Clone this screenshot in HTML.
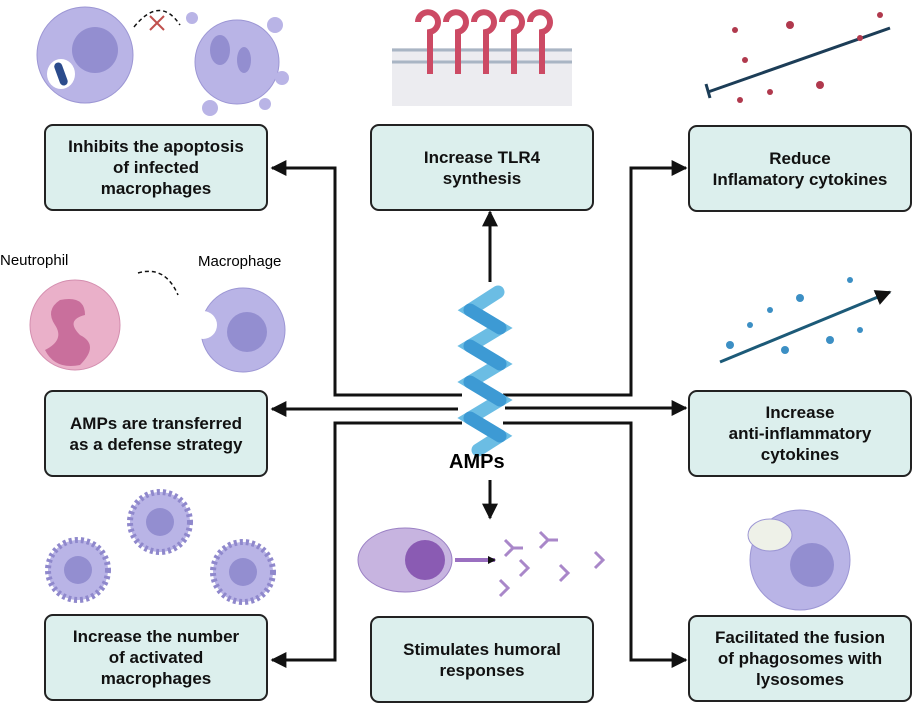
<!DOCTYPE html>
<html><head><meta charset="utf-8"><style>
body{margin:0;background:#fff;width:916px;height:706px;overflow:hidden;font-family:"Liberation Sans",sans-serif}
.b{position:absolute;width:224px;height:87px;border:2px solid #222;border-radius:9px;background:#dcefed;display:flex;align-items:center;justify-content:center;text-align:center;font-weight:bold;font-size:17px;line-height:21px;color:#111;box-sizing:border-box}
svg{position:absolute;left:0;top:0}
</style></head><body>
<svg width="916" height="706" viewBox="0 0 916 706">
<defs><marker id="a" markerWidth="8" markerHeight="8" refX="7" refY="4" orient="auto" markerUnits="userSpaceOnUse"><path d="M0,0L8,4L0,8z" fill="#111"/></marker>
<marker id="m" viewBox="0 0 10 10" markerWidth="16" markerHeight="16" refX="9" refY="5" orient="auto" markerUnits="userSpaceOnUse"><path d="M0,0L10,5L0,10z" fill="#111"/></marker></defs>
<g stroke="#111" stroke-width="3" fill="none">
<path d="M462,395H335V168H272" marker-end="url(#m)"/>
<path d="M503,395H631V168H686" marker-end="url(#m)"/>
<path d="M458,409H272" marker-end="url(#m)"/>
<path d="M505,408H686" marker-end="url(#m)"/>
<path d="M462,423H335V660H272" marker-end="url(#m)"/>
<path d="M503,423H631V660H686" marker-end="url(#m)"/>
<path d="M490,282V212" marker-end="url(#m)"/>
<path d="M490,480V518" marker-end="url(#m)"/>
</g>
<g stroke-width="13" fill="none" stroke-linecap="round">
<path d="M498,292 L470,310 L500,328 L470,346 L500,364 L470,382 L500,400 L470,418 L500,436 L478,450" stroke="#6bbde4"/>
<path d="M470,310 L500,328 M470,346 L500,364 M470,382 L500,400 M470,418 L500,436" stroke="#3d9ad4"/>
</g>
<rect x="392" y="48" width="180" height="58" fill="#ececf0"/>
<line x1="392" y1="50" x2="572" y2="50" stroke="#a9b5c4" stroke-width="3"/>
<line x1="392" y1="62" x2="572" y2="62" stroke="#a9b5c4" stroke-width="3"/>
<g fill="none" stroke="#cc4a64" stroke-width="6">
<path d="M418,22a10,10 0 1 1 12,10v42"/><path d="M446,22a10,10 0 1 1 12,10v42"/><path d="M474,22a10,10 0 1 1 12,10v42"/><path d="M502,22a10,10 0 1 1 12,10v42"/><path d="M530,22a10,10 0 1 1 12,10v42"/>
</g>
<circle cx="85" cy="55" r="48" fill="#b9b4e6" stroke="#9c96d4"/><circle cx="95" cy="50" r="23" fill="#938ed0"/>
<ellipse cx="61" cy="74" rx="14" ry="15" fill="#fff"/><rect x="57" y="62" width="8" height="24" rx="4" fill="#2b4b8c" transform="rotate(-20 61 74)"/>
<circle cx="237" cy="62" r="42" fill="#b9b4e6" stroke="#9c96d4"/><ellipse cx="220" cy="50" rx="10" ry="15" fill="#938ed0"/><ellipse cx="244" cy="60" rx="7" ry="13" fill="#938ed0"/>
<circle cx="192" cy="18" r="6" fill="#b9b4e6"/><circle cx="275" cy="25" r="8" fill="#b9b4e6"/><circle cx="282" cy="78" r="7" fill="#b9b4e6"/><circle cx="210" cy="108" r="8" fill="#b9b4e6"/><circle cx="265" cy="104" r="6" fill="#b9b4e6"/>
<path d="M134,27Q160,-5 180,25" stroke="#111" stroke-width="1.5" stroke-dasharray="4 3" fill="none"/>
<path d="M150,16l14,14M164,16l-14,14" stroke="#c0504d" stroke-width="2"/>
<circle cx="75" cy="325" r="45" fill="#eab0c9" stroke="#d48eaf"/><path d="M60,300q25,-5 25,15q-20,5 -5,20q20,10 0,30q-25,5 -35,-15q20,-10 10,-25q-10,-15 5,-25z" fill="#c96f9c"/>
<circle cx="243" cy="330" r="42" fill="#b9b4e6" stroke="#9c96d4"/><circle cx="247" cy="332" r="20" fill="#938ed0"/><circle cx="203" cy="325" r="14" fill="#fff"/>
<path d="M138,273Q165,265 178,295" stroke="#111" stroke-width="1.5" stroke-dasharray="4 3" fill="none"/>
<line x1="708" y1="92" x2="890" y2="28" stroke="#1c3d57" stroke-width="3"/><line x1="706" y1="84" x2="710" y2="98" stroke="#1c3d57" stroke-width="3"/>
<g fill="#b0394d"><circle cx="735" cy="30" r="3"/><circle cx="790" cy="25" r="4"/><circle cx="860" cy="38" r="3"/><circle cx="880" cy="15" r="3"/><circle cx="770" cy="92" r="3"/><circle cx="820" cy="85" r="4"/><circle cx="740" cy="100" r="3"/><circle cx="745" cy="60" r="3"/></g>
<line x1="720" y1="362" x2="890" y2="292" stroke="#1c5a78" stroke-width="3" marker-end="url(#m)"/>
<g fill="#3c8fc4"><circle cx="800" cy="298" r="4"/><circle cx="750" cy="325" r="3"/><circle cx="830" cy="340" r="4"/><circle cx="785" cy="350" r="4"/><circle cx="860" cy="330" r="3"/><circle cx="730" cy="345" r="4"/><circle cx="770" cy="310" r="3"/><circle cx="850" cy="280" r="3"/></g>
<g fill="#b9b4e6" stroke="#8f88cc" stroke-dasharray="3 3" stroke-width="6"><circle cx="78" cy="570" r="30"/><circle cx="160" cy="522" r="30"/><circle cx="243" cy="572" r="30"/></g>
<g fill="#938ed0"><circle cx="78" cy="570" r="14"/><circle cx="160" cy="522" r="14"/><circle cx="243" cy="572" r="14"/></g>
<ellipse cx="405" cy="560" rx="47" ry="32" fill="#c7b4e0" stroke="#9a80c4"/><circle cx="425" cy="560" r="20" fill="#8a5bb3"/>
<path d="M455,560H495" stroke="#9a6fc0" stroke-width="4" marker-end="url(#a)"/>
<g stroke="#a987c9" stroke-width="3" fill="none"><path d="M505,540l8,8l-8,8M513,548h10"/><path d="M540,532l8,8l-8,8M548,540h10"/><path d="M520,560l8,8l-8,8"/><path d="M560,565l8,8l-8,8"/><path d="M595,552l8,8l-8,8"/><path d="M500,580l8,8l-8,8"/></g>
<circle cx="800" cy="560" r="50" fill="#b9b4e6" stroke="#9c96d4"/><circle cx="812" cy="565" r="22" fill="#938ed0"/><ellipse cx="770" cy="535" rx="22" ry="16" fill="#eef1e8" stroke="#9c96d4"/>
</svg>
<div class="b" style="left:44px;top:124px">Inhibits the apoptosis<br>of infected<br>macrophages</div>
<div class="b" style="left:370px;top:124px">Increase TLR4<br>synthesis</div>
<div class="b" style="left:688px;top:125px">Reduce<br>Inflamatory cytokines</div>
<div class="b" style="left:44px;top:390px">AMPs are transferred<br>as a defense strategy</div>
<div class="b" style="left:688px;top:390px">Increase<br>anti-inflammatory<br>cytokines</div>
<div class="b" style="left:44px;top:614px">Increase the number<br>of activated<br>macrophages</div>
<div class="b" style="left:370px;top:616px">Stimulates humoral<br>responses</div>
<div class="b" style="left:688px;top:615px">Facilitated the fusion<br>of phagosomes with<br>lysosomes</div>
<div style="position:absolute;left:0;top:252px;font-size:15px">Neutrophil</div>
<div style="position:absolute;left:198px;top:253px;font-size:15px">Macrophage</div>
<div style="position:absolute;left:449px;top:451px;font-size:20px;font-weight:bold">AMPs</div>
</body></html>
